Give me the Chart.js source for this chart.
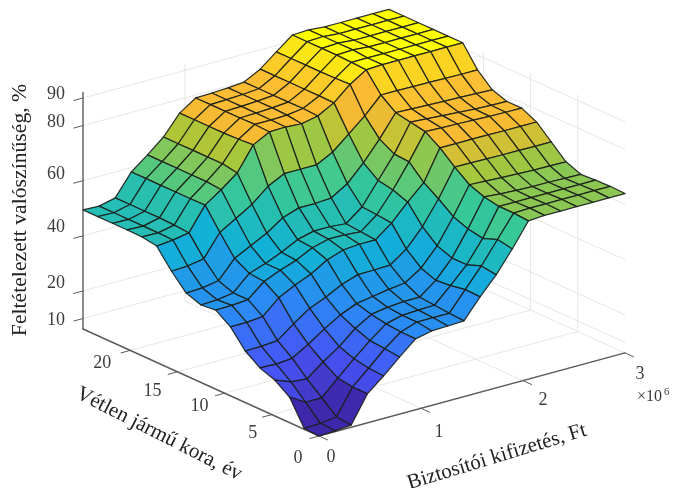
<!DOCTYPE html>
<html><head><meta charset="utf-8">
<style>html,body{margin:0;padding:0;background:#fff}#w{width:674px;height:488px}#c{filter:blur(0.45px)}</style>
<script src="https://cdn.jsdelivr.net/npm/chart.js@4"></script></head>
<body><div id="w"><canvas id="c" width="674" height="488"></canvas></div>
<script>
// ---- data ----
const payoutMillions=[0,0.158,0.316,0.474,0.632,0.789,0.947,1.105,1.263,1.421,1.579,1.737,1.895,2.053,2.211,2.368,2.526,2.684,2.842,3];
const vehicleAge=[0,1.5625,3.125,4.6875,6.25,7.8125,9.375,10.9375,12.5,14.0625,15.625,17.1875,18.75,20.3125,21.875,23.4375,25];
const probJ0 =[6.2,6.5,7,16.7,21.6,26.9,31.9,33.2,33.4,33.7,40.8,47.2,55,63.6,64,64,64,64,64,64];
const probJ1 =[6.5,6.8,7.5,16.8,22,27.5,32,34,34,34,41,48,56,64,64.2,64.2,64.2,64.2,64.2,64.2];
const probJ2 =[15.5,12,12,17.6,23,28,32.5,34,34.3,34.5,40,46,54,64,64,64,64,64,64,64];
const probJ3 =[19.2,17,16.5,21,25,30,33.5,34.5,35,35,39.5,46,55,65,64.5,64.2,64,64,63.8,63.7];
const probJ4 =[21.2,21,21.5,25,29,32.5,35,36,37,37.7,41.5,48,57,67,66.7,66.4,66.2,66,65.9,65.8];
const probJ5 =[24.9,25,25.5,30,34,36.5,39.5,41.5,41.6,41.8,46,52.5,61,71,70.9,70.8,70.7,70.7,70.6,70.6];
const probJ6 =[31.2,31.3,31.8,37,40,42.5,46,48,48.5,48.5,53,59,64.5,75.5,75.5,75.5,75.5,75.4,75.4,75.4];
const probJ7 =[34.9,35,35.5,40.5,43,45,48,49.5,49.5,49,53.6,61,69.6,79,78.8,78.6,78.4,78.2,78.1,78];
const probJ8 =[34.3,34.6,35.5,41,43,45.5,48.5,50,50,49.5,54,62,70,80,79.6,79.2,78.8,78.4,78.2,78];
const probJ9 =[36.2,36.5,37.5,44,47,50,54,56,56,56.4,60,66,73,81,80.8,80.6,80.4,80.2,80,79.8];
const probJ10=[41.7,42,43,51,54.5,58,63,66,66,66,69,74,79,85,85,84.9,84.8,84.7,84.6,84.6];
const probJ11=[48.4,49,50,58.5,62.5,67,75.6,78.7,78.9,78.5,79.7,82.9,88,91.7,92,92,92,92,92,92];
const probJ12=[49.3,49.2,50.4,58.4,63,67.9,75.2,79,79,79.2,80,83,87.8,92,92,92,92,92,92,92];
const probJ13=[49.4,49.2,50.6,58.4,63,67.9,75,78.9,79.1,79.4,79.9,83,87.7,92.2,92.5,92,92,92,92,92];
const probJ14=[49.4,49.2,50.6,58.4,63,67.9,75,78.9,79.1,79.4,79.9,83,87.7,92.2,92.5,92,92,92,92,92];
const probJ15=[49.4,49.2,50.6,58.4,63,67.9,75,78.9,79.1,79.4,79.9,83,87.7,92.2,92.5,92,92,92,92,92];
const probJ16=[49.4,49.2,50.6,58.4,63,67.9,75,78.9,79.1,79.4,79.9,83,87.7,92.2,92.5,92,92,92,92,92];
const probRows=[probJ0,probJ1,probJ2,probJ3,probJ4,probJ5,probJ6,probJ7,probJ8,probJ9,probJ10,probJ11,probJ12,probJ13,probJ14,probJ15,probJ16];
const xTicks=[0,1,2,3];
const yTicks=[0,5,10,15,20];
const zTicks=[10,20,40,60,80,90];
const zTitle='Feltételezett valószínűség, %';
const yTitle='Vétlen jármű kora, év';
const xTitle='Biztosítói kifizetés, Ft';

// ---- axis limits and the 3-D view ----
const xMax=3,yMax=25,zMin=6.2,zMax=92;
const O=[319,436],PX=[102,-27.7],PY=[-9.44,-4.28],PZ=2.757;
const proj=(x,y,z)=>({x:O[0]+PX[0]*x+PY[0]*y,y:O[1]+PX[1]*x+PY[1]*y-PZ*(z-zMin)});
const mapStops=[[0,.2422,.1504,.6603],[.143,.2810,.3228,.9579],[.286,.1786,.5289,.9682],[.429,.0689,.6948,.8394],[.571,.2161,.7843,.5923],[.714,.6720,.7793,.2227],[.79,.96,.73,.2],[.857,.99,.74,.2],[.93,.98,.85,.12],[.985,1,.98,.02],[1,1,1,0]];
function color(z){
  const t=Math.min(1,Math.max(0,(z-zMin)/(zMax-zMin)));
  let k=0;while(k<mapStops.length-2&&t>mapStops[k+1][0])k++;
  const a=mapStops[k],b=mapStops[k+1],u=(t-a[0])/(b[0]-a[0]);
  const c=[1,2,3].map(n=>Math.round(255*(a[n]+(b[n]-a[n])*u)));
  return `rgb(${c[0]},${c[1]},${c[2]})`;
}
const line=(pts,col,w)=>({data:pts,showLine:true,fill:false,borderColor:col,borderWidth:w,pointRadius:0,tension:0});
const datasets=[];
// Chart.js paints dataset 0 last: nearest faces go first
for(let j=0;j<vehicleAge.length-1;j++)for(let i=0;i<payoutMillions.length-1;i++){
  const P=(a,b)=>proj(payoutMillions[a],vehicleAge[b],probRows[b][a]);
  const pts=[P(i,j),P(i+1,j),P(i+1,j+1),P(i,j+1),P(i,j)];
  datasets.push({data:pts,showLine:true,fill:'shape',backgroundColor:color(probRows[j][i]),
    borderColor:'rgba(25,30,25,.9)',borderWidth:1.25,pointRadius:0,tension:0});
}
// front axes, ticks
const axisCol='#5a5a5a';
datasets.push(line([proj(0,yMax,zMin),proj(0,0,zMin),proj(xMax,0,zMin)],axisCol,1.4));
datasets.push(line([proj(0,yMax,zMin),proj(0,yMax,zMax)],axisCol,1.4));
for(const t of xTicks)datasets.push(line([proj(t,0,zMin),proj(t,-0.9,zMin)],axisCol,1));
for(const t of yTicks)datasets.push(line([proj(0,t,zMin),proj(-0.09,t,zMin)],axisCol,1));
for(const t of zTicks)datasets.push(line([proj(0,yMax,t),proj(-0.09,yMax,t)],axisCol,1));
// grid on floor and back walls
const gridCol='#e6e6e6';
for(const t of xTicks.slice(1)){
  datasets.push(line([proj(t,0,zMin),proj(t,yMax,zMin),proj(t,yMax,zMax)],gridCol,1));
}
for(const t of yTicks.slice(1)){
  datasets.push(line([proj(0,t,zMin),proj(xMax,t,zMin),proj(xMax,t,zMax)],gridCol,1));
}
for(const t of zTicks){
  datasets.push(line([proj(0,yMax,t),proj(xMax,yMax,t),proj(xMax,0,t)],gridCol,1));
}
datasets.push(line([proj(xMax,yMax,zMin),proj(xMax,yMax,zMax)],gridCol,1));

const serif='"Liberation Serif","Times New Roman",serif';
const labelPlugin={id:'labels',afterDatasetsDraw(ch){
  const c=ch.ctx,sx=ch.scales.x,sy=ch.scales.y;
  const put=(p,dx,dy,txt,size,col,rot,align)=>{
    c.save();c.translate(sx.getPixelForValue(p.x)+dx,sy.getPixelForValue(p.y)+dy);c.rotate(rot||0);
    c.font=`${size}px ${serif}`;c.fillStyle=col;c.textAlign=align||'center';c.textBaseline='middle';
    c.fillText(txt,0,0);c.restore();
  };
  const tc='#3c3c3c';
  const zNudge={10:2,20:-8,40:-9,60:-6,80:-3,90:-4};
  for(const t of zTicks)put(proj(0,yMax,t),-18,zNudge[t],String(t),18,tc,0,'right');
  const yNudge={0:[-21,22],5:[-19,19],10:[-25,13],15:[-25,19],20:[-28,13]};
  for(const t of yTicks)put(proj(0,t,zMin),yNudge[t][0],yNudge[t][1],String(t),18,tc);
  const xNudge={0:[12,21],1:[18,24],2:[20,20],3:[15,21]};
  for(const t of xTicks)put(proj(t,0,zMin),xNudge[t][0],xNudge[t][1],String(t),18,tc);
  put({x:637,y:397},0,0,'×10',16,tc,0,'left');
  put({x:664,y:392},0,0,'6',11,tc,0,'left');
  put({x:20,y:210},0,0,zTitle,21.7,'#222',-Math.PI/2);
  put({x:159,y:434},0,0,yTitle,21,'#222',0.47);
  put({x:497,y:457},0,0,xTitle,21,'#222',-0.295);
}};
new Chart(document.getElementById('c'),{type:'scatter',data:{datasets},plugins:[labelPlugin],options:{
  responsive:false,animation:false,
  layout:{padding:0},
  plugins:{legend:{display:false},tooltip:{enabled:false},title:{display:false}},
  scales:{x:{type:'linear',min:0,max:674,display:false},y:{type:'linear',min:0,max:488,reverse:true,display:false}},
  elements:{line:{borderCapStyle:'round',borderJoinStyle:'round'}}
}});
</script></body></html>
